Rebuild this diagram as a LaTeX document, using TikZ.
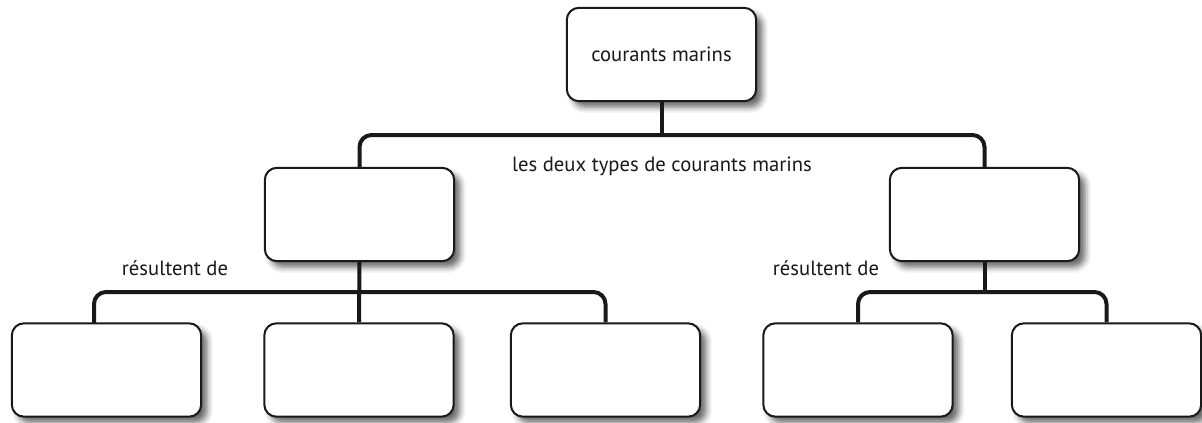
\documentclass[tikz,border=0pt]{standalone}
\usepackage{fontspec}
\setmainfont{PT Sans}
\usetikzlibrary{shadows.blur,calc}
\begin{document}
\begin{tikzpicture}[x=0.75pt,y=-0.75pt,
  box/.style={draw=black!90,line width=1.5pt,rounded corners=9pt,fill=white,
    minimum width=142pt,minimum height=70pt,inner sep=0pt,
    blur shadow={shadow xshift=4.5pt,shadow yshift=-4.5pt,shadow blur radius=4.5pt,shadow opacity=60}},
  conn/.style={draw=black!90,line width=3pt,rounded corners=9pt},
  lbl/.style={font=\fontsize{15.5}{18}\selectfont,text=black!90,inner sep=0pt}]
\useasboundingbox (0,0) rectangle (1202,422);
\node[box] (top) at (661.5,54.5) {};
\node[lbl] (toptext) at (661.5,54) {courants marins};
\node[box] (m1) at (359.5,214.5) {};
\node[box] (m2) at (984.5,214.5) {};
\node[box] (b1) at (106.5,370) {};
\node[box] (b2) at (359,370) {};
\node[box] (b3) at (605.5,370) {};
\node[box] (b4) at (858,370) {};
\node[box] (b5) at (1106.5,370) {};
\coordinate (hy) at (0,135);
\coordinate (ly) at (0,292);
\coordinate (b1c) at (94,323.5);
\draw[conn] (top.south) -- (top.south |- hy);
\draw[conn] (m1.north) -- (m1.north |- hy) -- (m2.north |- hy) -- (m2.north);
\draw[conn] (m1.south) -- (b2.north);
\draw[conn] (b1c) -- (b1c |- ly) -- (b3.north |- ly) -- (b3.north);
\draw[conn] (m2.south) -- (m2.south |- ly);
\draw[conn] (b4.north) -- (b4.north |- ly) -- (b5.north |- ly) -- (b5.north);
\node[lbl] (l1) at (662,166) {les deux types de courants marins};
\node[lbl] (l2) at (175,268) {résultent de};
\node[lbl] (l3) at (826,268) {résultent de};
\end{tikzpicture}
\end{document}
